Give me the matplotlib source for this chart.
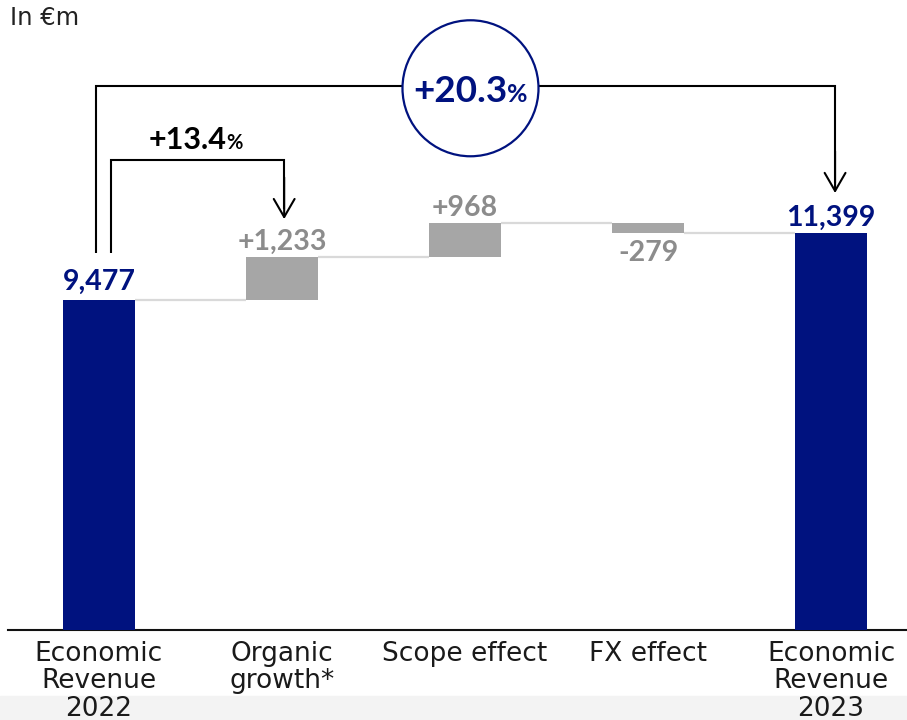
import matplotlib
matplotlib.use("Agg")
import matplotlib.pyplot as plt
from matplotlib.patches import Ellipse, FancyArrowPatch, Rectangle
import numpy as np

# ---------------- data ----------------
categories = ['Economic\nRevenue\n2022', 'Organic\ngrowth*', 'Scope effect',
              'FX effect', 'Economic\nRevenue\n2023']
start_value = 9477
changes = [1233, 968, -279]
end_value = 11399
value_labels = ['9,477', '+1,233', '+968', '-279', '11,399']
organic_growth_label = '+13.4'
total_growth_label = '+20.3'
unit_label = 'In €m'

# ---------------- style ----------------
NAVY = '#00127f'
BAR_GREY = '#a6a6a6'
LABEL_GREY = '#8c8c8c'
CONN_GREY = '#d9d9d9'
NUM_FONT = ['Lato', 'DejaVu Sans']
TXT_FONT = ['DejaVu Sans']

W, H = 907, 720
fig = plt.figure(figsize=(W / 100, H / 100), dpi=100)
band = Rectangle((0, 0), 1, 24 / H, transform=fig.transFigure,
                 color='#f3f3f3', zorder=-5)
fig.patches.append(band)

ax = fig.add_axes([8 / W, 90 / H, (W - 8) / W, 630 / H])
ax.set_zorder(2)
ax.set_facecolor('none')
x = np.arange(len(categories))
ax.set_xlim(-0.497, 4.415)
ax.set_ylim(0, 18092)
for s in ['top', 'right', 'left']:
    ax.spines[s].set_visible(False)
ax.spines['bottom'].set_linewidth(1.5)
ax.spines['bottom'].set_color('#111111')
ax.set_yticks([])
ax.set_xticks(x)
ax.set_xticklabels(categories, fontsize=19, family=TXT_FONT, color='#1a1a1a',
                   linespacing=1.06)
ax.tick_params(axis='x', length=0, pad=8)

# waterfall geometry
cum = np.concatenate([[start_value], start_value + np.cumsum(changes)])
bottoms = [0] + [min(cum[i], cum[i + 1]) for i in range(len(changes))] + [0]
heights = [start_value] + [abs(c) for c in changes] + [end_value]
colors = [NAVY] + [BAR_GREY] * len(changes) + [NAVY]
bw = 0.393
ax.bar(x, heights, bottom=bottoms, width=bw, color=colors, zorder=3)

# connectors
levels = list(cum) + [end_value]
for i in range(len(x) - 1):
    ax.plot([x[i] + bw / 2, x[i + 1] - bw / 2], [levels[i], levels[i]],
            color=CONN_GREY, lw=1.6, zorder=2, solid_capstyle='butt')

# value labels
tops = [b + h for b, h in zip(bottoms, heights)]
for i, lab in enumerate(value_labels):
    col = NAVY if i in (0, len(x) - 1) else LABEL_GREY
    if 0 < i < len(x) - 1 and changes[i - 1] < 0:
        ax.annotate(lab, (x[i], bottoms[i]), xytext=(0, -5), textcoords='offset points',
                    ha='center', va='top', fontsize=20.5, fontweight='bold',
                    family=NUM_FONT, color=col, zorder=5)
    else:
        off = 7 if i == 0 else 5
        ax.annotate(lab, (x[i], tops[i]), xytext=(0, off), textcoords='offset points',
                    ha='center', va='baseline', fontsize=20.5, fontweight='bold',
                    family=NUM_FONT, color=col, zorder=5)

# brackets
def bracket(x0, x1, y0, ytop, ytip, color='black'):
    ax.plot([x0, x0, x1, x1], [y0, ytop, ytop, ytip + 300], color=color, lw=1.5,
            zorder=4, solid_joinstyle='miter', solid_capstyle='butt')
    arr = FancyArrowPatch((x1, ytip + 1200), (x1, ytip),
                          arrowstyle='->,head_length=1.3,head_width=0.75',
                          mutation_scale=10, lw=1.5, color=color, zorder=4,
                          shrinkA=0, shrinkB=0)
    ax.add_patch(arr)

# inner: organic growth
bracket(x[0] + 0.066, x[1] + 0.012, start_value + 1350, 13500, cum[1] + 1090)
# outer: total
line_y = 15623
bracket(x[0] - 0.016, x[4] + 0.022, start_value + 1350, line_y, end_value + 1150)

# circle with total growth
cx, cy = 2.030, 15557
ell = Ellipse((cx, cy), width=136 / 183, height=136 / 0.034821, facecolor='white',
              edgecolor=NAVY, lw=1.6, zorder=6)
ax.add_patch(ell)
ax.text(2.2295, 15172, total_growth_label, ha='right', va='baseline', fontsize=26.5,
        fontweight='bold', family=NUM_FONT, color=NAVY, zorder=7)
ax.text(2.2295, 15172, '%', ha='left', va='baseline', fontsize=18,
        fontweight='bold', family=NUM_FONT, color=NAVY, zorder=7)

ax.text(0.698, 13805, organic_growth_label, ha='right', va='baseline', fontsize=22,
        fontweight='bold', family=NUM_FONT, color='black', zorder=7)
ax.text(0.698, 13805, '%', ha='left', va='baseline', fontsize=14.5,
        fontweight='bold', family=NUM_FONT, color='black', zorder=7)

fig.text(10 / W, 1 - 25 / H, unit_label, ha='left', va='baseline', fontsize=17.5,
         family=TXT_FONT, color='#222222')

fig.savefig('out.png', dpi=100)
